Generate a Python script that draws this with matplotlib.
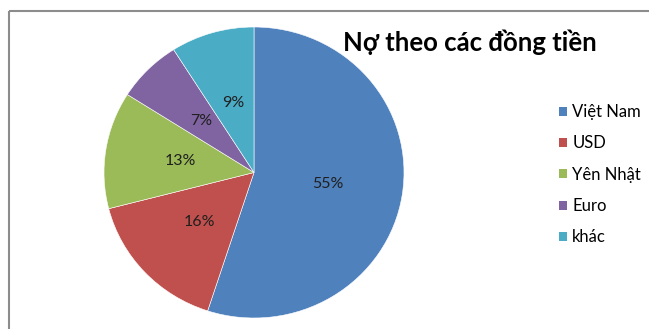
import matplotlib
matplotlib.use("Agg")
import matplotlib.pyplot as plt
from matplotlib.patches import Patch, Rectangle

plt.rcParams["font.family"] = ["Lato", "Noto Sans", "DejaVu Sans"]

# data
categories = ["Việt Nam", "USD", "Yên Nhật", "Euro", "khác"]
shares = [55, 16, 13, 7, 9]
colors = ["#4F81BD", "#C0504D", "#9BBB59", "#8064A2", "#4BACC6"]
title = "Nợ theo các đồng tiền"

W, H = 649, 329
fig = plt.figure(figsize=(W / 100, H / 100), dpi=100)
fig.patch.set_facecolor("white")

# pie area in pixels: x 104..404, y 27..318 (from top)
ax = fig.add_axes([104 / W, 1 - 318 / H, 300 / W, 291 / H])
wedges, _, autotexts = ax.pie(
    shares,
    colors=colors,
    startangle=90,
    counterclock=False,
    autopct="%d%%",
    pctdistance=0.5,
    wedgeprops=dict(edgecolor="white", linewidth=0.4),
    textprops=dict(fontsize=11.5, color="#1f1f1f"),
)
ax.set_aspect("auto")
ax.set_xlim(-1, 1)
ax.set_ylim(-1, 1)
ax.axis("off")

fig.text(470 / W, 1 - 42 / H, title, ha="center", va="center",
         fontsize=18.5, fontweight="bold", color="black")

handles = [Patch(facecolor=c, edgecolor="none") for c in colors]
fig.legend(
    handles, categories,
    loc="upper left",
    bbox_to_anchor=(559 / W, 1 - 104 / H),
    frameon=False,
    fontsize=12,
    handlelength=0.45,
    handleheight=0.45,
    handletextpad=0.35,
    labelspacing=0.92,
    borderpad=0,
    borderaxespad=0,
)

# chart area border (continues past the right and bottom edges)
fig.add_artist(Rectangle((8.5 / W, 1 - 10.5 / H), 2, -2, transform=fig.transFigure,
                         fill=False, edgecolor="#8c8c8c", linewidth=1.5))

fig.savefig("out.png", dpi=100)
